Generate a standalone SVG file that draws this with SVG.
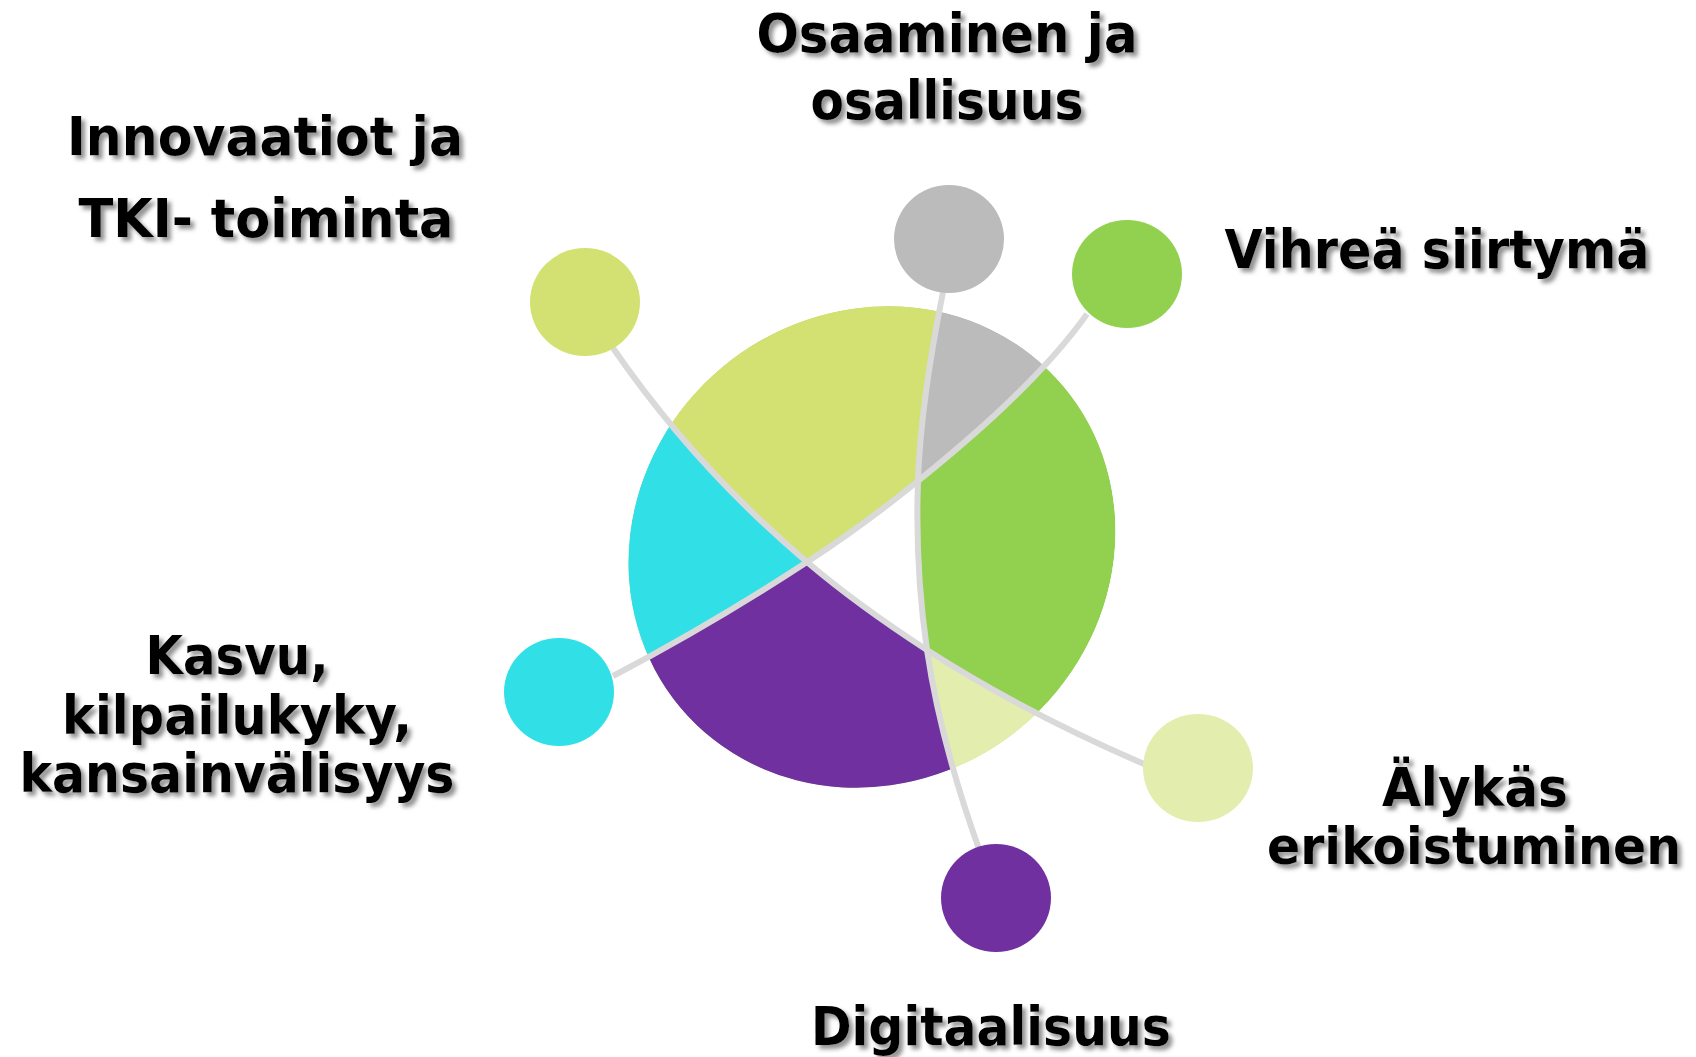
<svg xmlns="http://www.w3.org/2000/svg" width="1696" height="1057" viewBox="0 0 1696 1057">
<style>
.lbl{font-family:"DejaVu Sans","Liberation Sans",sans-serif;font-weight:bold;font-size:54px;fill:#000;text-anchor:middle;filter:url(#sh)}
.ln{fill:none;stroke:#D9D9D9;stroke-width:6;stroke-linecap:butt}
</style>
<defs>
<filter id="sh" filterUnits="userSpaceOnUse" x="0" y="0" width="1696" height="1057">
<feGaussianBlur in="SourceAlpha" stdDeviation="2"/>
<feOffset dx="4" dy="4" result="b"/>
<feFlood flood-color="#808080" flood-opacity="0.85"/>
<feComposite in2="b" operator="in"/>
<feMerge><feMergeNode/><feMergeNode in="SourceGraphic"/></feMerge>
</filter>
<clipPath id="pie"><ellipse cx="872" cy="547" rx="250" ry="234" transform="rotate(-40 872 547)"/></clipPath>
</defs>
<rect width="1696" height="1057" fill="#fff"/>
<g id="pie-chart" clip-path="url(#pie)">
<ellipse cx="872" cy="547" rx="250" ry="234" transform="rotate(-40 872 547)" fill="#92D050"/>
<path id="seg-innovaatiot" fill="#D3E173" d="M613,348 Q695,467 807,562 C844,538 881,511 918,481 C920,420 931,352 943,292 L945,200 L480,200 L480,300 Z"/>
<path id="seg-osaaminen" fill="#BBBBBB" d="M943,292 C931,352 920,420 918,481 C965,443 1040,380 1087,314 L1110,200 L945,200 Z"/>
<path id="seg-kasvu" fill="#31E0E6" d="M613,348 Q695,467 807,562 Q712,624 613,676 L480,720 L480,300 Z"/>
<path id="seg-digi" fill="#7030A0" d="M613,676 Q712,624 807,562 C847,596 887,624 927,650 C937,718 955,782 979,849 L900,950 L480,950 L480,720 Z"/>
<path id="seg-alykas" fill="#E2EDAE" d="M927,650 C1000,697 1070,732 1144,764 L1100,900 L979,849 C955,782 937,718 927,650 Z"/>
<path id="seg-center" fill="#FFFFFF" d="M807,562 C844,538 881,511 918,481 C916,537 919,595 927,650 C887,624 847,596 807,562 Z"/>
</g>
<g id="connectors">
<path class="ln" d="M613,348 Q695,467 807,562 C847,596 887,624 927,650 C1000,697 1070,732 1144,764"/>
<path class="ln" d="M613,676 Q712,624 807,562 C844,538 881,511 918,481 C965,443 1040,380 1087,314"/>
<path class="ln" d="M943,292 C931,352 920,420 918,481 C916,537 919,595 927,650 C937,718 955,782 979,849"/>
</g>
<g id="node-innovaatiot">
<ellipse cx="585" cy="302" rx="55" ry="54" fill="#D3E173"/>
<text class="lbl" x="265" y="155" textLength="396" lengthAdjust="spacingAndGlyphs">Innovaatiot ja</text>
<text class="lbl" x="266" y="237" textLength="375" lengthAdjust="spacingAndGlyphs">TKI- toiminta</text>
</g>
<g id="node-osaaminen">
<ellipse cx="949" cy="239" rx="55" ry="54" fill="#BBBBBB"/>
<text class="lbl" x="947" y="52" textLength="381" lengthAdjust="spacingAndGlyphs">Osaaminen ja</text>
<text class="lbl" x="947" y="119" textLength="273" lengthAdjust="spacingAndGlyphs">osallisuus</text>
</g>
<g id="node-vihrea">
<ellipse cx="1127" cy="274" rx="55" ry="54" fill="#92D050"/>
<text class="lbl" x="1437" y="268" textLength="425" lengthAdjust="spacingAndGlyphs">Vihreä siirtymä</text>
</g>
<g id="node-kasvu">
<ellipse cx="559" cy="692" rx="55" ry="54" fill="#31E0E6"/>
<text class="lbl" x="237" y="674" textLength="183" lengthAdjust="spacingAndGlyphs">Kasvu,</text>
<text class="lbl" x="237" y="734" textLength="350" lengthAdjust="spacingAndGlyphs">kilpailukyky,</text>
<text class="lbl" x="237" y="792" textLength="435" lengthAdjust="spacingAndGlyphs">kansainvälisyys</text>
</g>
<g id="node-alykas">
<ellipse cx="1198" cy="768" rx="55" ry="54" fill="#E2EDAE"/>
<text class="lbl" x="1475" y="806" textLength="186" lengthAdjust="spacingAndGlyphs">Älykäs</text>
<text class="lbl" x="1474" y="864" style="font-size:51px" textLength="414" lengthAdjust="spacingAndGlyphs">erikoistuminen</text>
</g>
<g id="node-digitaalisuus">
<ellipse cx="996" cy="898" rx="55" ry="54" fill="#7030A0"/>
<text class="lbl" x="991" y="1045" textLength="360" lengthAdjust="spacingAndGlyphs">Digitaalisuus</text>
</g>
</svg>
